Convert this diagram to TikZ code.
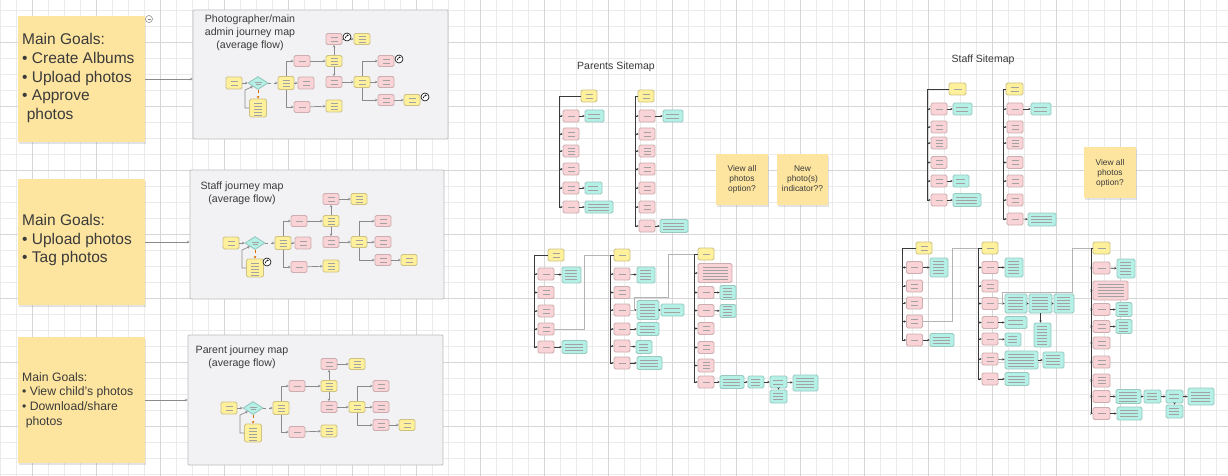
\documentclass[tikz,border=0pt]{standalone}
\usepackage{fontspec}
\setmainfont{Liberation Sans}
\usetikzlibrary{arrows.meta,shapes.geometric,shadows}
\definecolor{gridminor}{HTML}{EBEBEB}
\definecolor{gridmajor}{HTML}{D6D6D6}
\definecolor{sticky}{HTML}{FDE5A0}
\definecolor{yfill}{HTML}{FFF09C}
\definecolor{ydraw}{HTML}{CDC184}
\definecolor{pfill}{HTML}{F9D3D5}
\definecolor{pdraw}{HTML}{CDAEB0}
\definecolor{tfill}{HTML}{B5F0E6}
\definecolor{tdraw}{HTML}{98C8C0}
\definecolor{jfill}{HTML}{F2F2F4}
\definecolor{jdraw}{HTML}{BDBDC0}
\definecolor{tline}{HTML}{A2A2A2}
\definecolor{ink}{HTML}{3A3A3A}
\definecolor{edge}{HTML}{8A8A8A}
\definecolor{linkc}{HTML}{B4B4B4}
\tikzset{
  nbase/.style={rounded corners=1.5pt, line width=0.9pt, inner sep=0pt, minimum width=16pt, minimum height=12pt},
  yn/.style={nbase, draw=ydraw, fill=yfill},
  pn/.style={nbase, draw=pdraw, fill=pfill},
  tn/.style={nbase, draw=tdraw, fill=tfill},
  dn/.style={shape=diamond, draw=tdraw, fill=tfill, line width=0.9pt, inner sep=0pt, minimum width=20pt, minimum height=13pt,
     path picture={\draw[tline, line width=0.45pt] ([xshift=-3.5pt,yshift=1pt]path picture bounding box.center) -- ([xshift=3.5pt,yshift=1pt]path picture bounding box.center);
                   \draw[tline, line width=0.45pt] ([xshift=-2.5pt,yshift=-1.5pt]path picture bounding box.center) -- ([xshift=2.5pt,yshift=-1.5pt]path picture bounding box.center);}},
  lns/.style={path picture={\foreach \dy in {#1}{\draw[tline, line width=0.45pt] ([xshift=4.5pt,yshift=\dy pt]path picture bounding box.west) -- ([xshift=-4.5pt,yshift=\dy pt]path picture bounding box.east);}}},
  tlns/.style={path picture={\foreach \dy in {#1}{\draw[tline, line width=0.45pt] ([xshift=2.8pt,yshift=\dy pt]path picture bounding box.west) -- ([xshift=-4pt,yshift=\dy pt]path picture bounding box.east);}}},
  pk1/.style={pn,lns={0}}, pk2/.style={pn,lns={1.8,-1.8}}, pk3/.style={pn,lns={3,0,-3}},
  yw1/.style={yn,lns={0}}, yw2/.style={yn,lns={1.8,-1.8}}, yw3/.style={yn,lns={3,0,-3}}, yw4/.style={yn,lns={5,2,-1,-4,-7}},
  tq2/.style={tn,tlns={1.8,-1.8}}, tq3/.style={tn,tlns={3,0,-3}}, tq4/.style={tn,tlns={4.5,1.5,-1.5,-4.5}},
  tq5/.style={tn,tlns={6,3,0,-3,-6}}, tq7/.style={tn,tlns={9,6,3,0,-3,-6,-9}},
  ar/.style={draw=ink, line width=0.6pt, -{Stealth[length=2.2pt,width=2.4pt]}},
  jar/.style={draw=edge, line width=0.7pt, -{Stealth[length=2.4pt,width=2.6pt]}},
  trunk/.style={draw=ink, line width=0.9pt},
  link/.style={draw=linkc, line width=0.8pt},
  stk/.style={fill=sticky, draw=none, drop shadow={shadow xshift=0.6pt, shadow yshift=-2.2pt, opacity=0.22}},
  jbox/.style={fill=jfill, draw=jdraw, line width=0.9pt, rounded corners=1pt},
  icon/.style={circle, draw=black, fill=white, line width=0.6pt, minimum size=8pt, inner sep=0pt,
     path picture={\draw[line width=0.6pt, -{Stealth[length=1.4pt,width=1.8pt]}] ([xshift=-1.8pt,yshift=-1.2pt]path picture bounding box.center) to[bend left=50] ([xshift=1.6pt,yshift=1.4pt]path picture bounding box.center);}},
  jtitle/.style={align=center, text=ink, font=\fontsize{10.6}{13}\selectfont, inner sep=0pt},
  sttext/.style={align=center, text=ink, font=\fontsize{8.4}{10}\selectfont, inner sep=0pt},
}
\newcommand\bx[6]{\node[#1,minimum width=#5pt,minimum height=#6pt] (#2) at (#3,#4) {};}
\newcommand\jflow[2]{%
  \bx{yw2}{#1s}{41}{73}{16}{12}
  \node[dn] (#1d) at (65,73) {};
  \bx{yw4}{#1b}{65}{98}{17}{18}
  \bx{yw3}{#1m}{93}{73}{16}{13}
  \bx{pk1}{#1pu}{109}{51}{16}{11}
  \bx{pk1}{#1pd}{109}{97}{16}{11}
  \bx{yw3}{#1yu}{141}{51}{16}{11}
  \bx{pk2}{#1pt}{141}{29}{16}{11}
  \bx{yw3}{#1yt}{169}{29}{16}{11}
  \bx{pk2}{#1pm}{141}{72}{16}{11}
  \bx{yw3}{#1yd}{141}{96}{16}{12}
  \bx{yw2}{#1ym}{169}{72}{16}{11}
  \bx{pk2}{#1r1}{193}{51}{16}{11}
  \bx{pk2}{#1r2}{193}{72}{16}{11}
  \bx{pk2}{#1r3}{193}{90}{16}{11}
  \bx{yw2}{#1yf}{219}{90}{16}{11}
  \draw[jar] (#1s) -- (#1d);
  \draw[jar,dashed] (#1d) -- (#1m);
  \draw[jar,dashed,draw=orange!85!black] (#1d) -- (#1b);
  \draw[jar] (#1b.west) -| (52,80) -- (#1d.south west);
  \draw[jar] (#1m.north) |- (#1pu.west);
  \draw[jar] (#1m.south) |- (#1pd.west);
  \draw[jar] (#1pu) -- (#1yu);
  \draw[jar] (#1yu) -- (#1pt);
  \draw[jar] (#1pt) -- (#1yt);
  \draw[jar] (#1yu) -- (#1pm);
  \draw[jar] (#1pd) -- (#1yd);
  \draw[jar] (#1pm) -- (#1ym);
  \draw[jar] (#1ym.north) |- (#1r1.west);
  \draw[jar] (#1ym) -- (#1r2);
  \draw[jar] (#1ym.south) |- (#1r3.west);
  \draw[jar] (#1r3) -- (#1yf);
  #2%
}
\begin{document}
\begin{tikzpicture}[x=1pt,y=-1pt]
\useasboundingbox (0,0) rectangle (1228,476);
\fill[white] (0,0) rectangle (1228,476);
% grid
\foreach \x in {0,16,...,1216} \draw[gridminor, line width=0.7pt] (\x,0) -- (\x,476);
\foreach \y in {10,26,...,474} \draw[gridminor, line width=0.7pt] (0,\y) -- (1228,\y);
\foreach \x in {32,96,...,1184} \draw[gridmajor, line width=0.9pt] (\x,0) -- (\x,476);
\foreach \y in {42,106,...,426} \draw[gridmajor, line width=0.9pt] (0,\y) -- (1228,\y);

% ---------- goal stickies ----------
\node[stk, minimum width=127pt, minimum height=126pt] (G1) at (81.5,79) {};
\node[stk, minimum width=127pt, minimum height=126pt] (G2) at (81.5,242) {};
\node[stk, minimum width=127pt, minimum height=126pt] (G3) at (81.5,400) {};
\node[anchor=west, align=left, text=ink, inner sep=0pt, font=\fontsize{15.5}{18.7}\selectfont] (G1t) at (22,78) {Main Goals:\\• Create Albums\\• Upload photos\\• Approve\\\hspace{0.3em}photos};
\node[anchor=west, align=left, text=ink, inner sep=0pt, font=\fontsize{15.5}{18.7}\selectfont] (G2t) at (22,240) {Main Goals:\\• Upload photos\\• Tag photos};
\node[anchor=west, align=left, text=ink, inner sep=0pt, font=\fontsize{12.2}{14.6}\selectfont] (G3t) at (22,400) {Main Goals:\\• View child's photos\\• Download/share\\\hspace{0.3em}photos};
\node[circle, draw=gray, fill=white, line width=0.5pt, minimum size=7pt, inner sep=0pt,
  path picture={\draw[gray, line width=0.5pt] ([xshift=-1.5pt]path picture bounding box.center) -- ([xshift=1.5pt]path picture bounding box.center);}] (col) at (149,19) {};

% ---------- journey boxes ----------
\node[jbox, minimum width=255pt, minimum height=129pt] (J1) at (320.5,74.5) {};
\node[jbox, minimum width=254pt, minimum height=129pt] (J2) at (317,234.5) {};
\node[jbox, minimum width=255pt, minimum height=130pt] (J3) at (315.5,400) {};
\draw[jar] (G1.east) -- (G1.east -| J1.west);
\draw[jar] (G2.east) -- (G2.east -| J2.west);
\draw[jar] (G3.east) -- (G3.east -| J3.west);
\node[jtitle] (J1t) at (250,33) {Photographer/main\\admin journey map\\(average flow)};
\node[jtitle] (J2t) at (242,193.5) {Staff journey map\\(average flow)};
\node[jtitle] (J3t) at (242,357) {Parent journey map\\(average flow)};

\begin{scope}[shift={(193,10)}]
  \jflow{A}{%
    \bx{pk2}{Amr}{113}{73}{16}{12}
    \draw[jar] (Am) -- (Amr);
    \node[icon] (Ai1) at (154,27) {};
    \node[icon] (Ai2) at (206,49) {};
    \node[icon] (Ai3) at (232,87) {};
  }
\end{scope}
\begin{scope}[shift={(190,170)}]
  \jflow{B}{%
    \bx{pk2}{Bmr}{113}{73}{16}{12}
    \draw[jar] (Bm) -- (Bmr);
    \node[icon] (Bi1) at (77,92) {};
  }
\end{scope}
\begin{scope}[shift={(188,335)}]
  \jflow{C}{}
\end{scope}

% ---------- Parents sitemap ----------
\node[text=ink, inner sep=0pt, font=\fontsize{10.5}{12}\selectfont] (PST) at (616,67) {Parents Sitemap};
% top-left tree
\coordinate (tPL) at (559,96);
\bx{yw2}{rPL}{589}{96}{16}{12}
\bx{pk1}{pl1}{571}{116}{16}{12}
\bx{pk2}{pl2}{571}{134}{16}{12}
\bx{pk3}{pl3}{571}{151}{16}{12}
\bx{pk2}{pl4}{571}{169}{16}{12}
\bx{pk2}{pl5}{571}{188}{16}{12}
\bx{pk1}{pl6}{571}{207}{16}{12}
\bx{tq2}{plt1}{594.5}{116}{19}{12}
\bx{tq2}{plt5}{593.5}{188}{17}{12}
\bx{tq3}{plt6}{599}{207}{28}{12}
\draw[trunk] (rPL.west) -| (pl6.west -| tPL);
\foreach \c in {pl1,pl2,pl3,pl4,pl5,pl6} {\draw[ar] (\c.west -| tPL) -- (\c.west);}
\draw[ar] (pl1) -- (plt1); \draw[ar] (pl5) -- (plt5); \draw[ar] (pl6) -- (plt6);
% top-right tree
\coordinate (tPR) at (635,96);
\bx{yw2}{rPR}{646}{96}{16}{12}
\bx{pk1}{pr1}{647}{116}{16}{12}
\bx{pk2}{pr2}{647}{134}{16}{12}
\bx{pk3}{pr3}{647}{151}{16}{12}
\bx{pk2}{pr4}{647}{169}{16}{12}
\bx{pk2}{pr5}{647}{188}{16}{12}
\bx{pk2}{pr6}{647}{207}{16}{12}
\bx{pk1}{pr7}{647}{226}{16}{12}
\bx{tq2}{prt1}{673}{116}{20}{12}
\bx{tq3}{prt7}{674}{226}{28}{13}
\draw[trunk] (rPR.west) -| (pr7.west -| tPR);
\foreach \c in {pr1,pr2,pr3,pr4,pr5,pr6,pr7} {\draw[ar] (\c.west -| tPR) -- (\c.west);}
\draw[ar] (pr1) -- (prt1); \draw[ar] (pr7) -- (prt7);
% stickies
\node[stk, minimum width=52pt, minimum height=51pt] (stA) at (742,179.5) {};
\node[stk, minimum width=51pt, minimum height=51pt] (stB) at (802.5,179.5) {};
\node[sttext] (stAt) at (742,179) {View all\\photos\\option?};
\node[sttext] (stBt) at (802.5,179) {New\\photo(s)\\indicator??};
% bottom tree A
\coordinate (tPA) at (534,255);
\bx{yw2}{rPA}{556}{255}{16}{12}
\bx{pk1}{pa1}{546}{274}{16}{12}
\bx{pk2}{pa2}{546}{292.5}{16}{12}
\bx{pk2}{pa3}{546}{311}{16}{12}
\bx{pk2}{pa4}{546}{329}{16}{12}
\bx{pk1}{pa5}{546}{347}{16}{12}
\bx{tq4}{pat1}{571.5}{275}{19}{16}
\bx{tq3}{pat5}{574.5}{347}{25}{13}
\draw[trunk] (rPA.west) -| (pa5.west -| tPA);
\foreach \c in {pa1,pa2,pa3,pa4,pa5} {\draw[ar] (\c.west -| tPA) -- (\c.west);}
\draw[ar] (pa1) -- (pat1); \draw[ar] (pa5) -- (pat5);
% bottom tree B
\coordinate (tPB) at (610,255);
\bx{yw1}{rPB}{622}{255}{16}{12}
\bx{pk1}{pb1}{622}{274}{16}{12}
\bx{pk2}{pb2}{622}{292.5}{16}{12}
\bx{pk1}{pb3}{622}{310}{16}{12}
\bx{pk1}{pb4}{622}{329}{16}{12}
\bx{pk1}{pb5}{622}{346}{16}{12}
\bx{pk1}{pb6}{622}{363}{16}{12}
\bx{tq4}{pbt1}{646}{275}{18}{16}
\bx{tq5}{pbt3}{648}{310}{22}{19}
\bx{tq2}{pbt3b}{672.5}{310}{23}{12}
\bx{tq3}{pbt4}{648}{329}{22}{13}
\bx{tq3}{pbt5}{644}{347}{16}{13}
\bx{tq3}{pbt6}{649.5}{363}{25}{13}
\draw[trunk] (rPB.west) -| (pb6.west -| tPB);
\foreach \c in {pb1,pb2,pb3,pb4,pb5,pb6} {\draw[ar] (\c.west -| tPB) -- (\c.west);}
\draw[ar] (pb1) -- (pbt1); \draw[ar] (pb3) -- (pbt3); \draw[ar] (pbt3) -- (pbt3b);
\draw[ar] (pb4) -- (pbt4); \draw[ar] (pb5) -- (pbt5); \draw[ar] (pb6) -- (pbt6);
% bottom tree C
\coordinate (tPC) at (694,254);
\bx{yw1}{rPC}{706}{254}{16}{12}
\bx{pn,lns={6,3,0,-3,-6}}{pc1}{715}{273}{34}{19}
\bx{pk1}{pc2}{706}{292.5}{16}{12}
\bx{pk1}{pc3}{706}{310.5}{16}{12}
\bx{pk2}{pc4}{706}{328.5}{16}{12}
\bx{pk2}{pc5}{706}{347.5}{16}{12}
\bx{pk3}{pc6}{706}{365.5}{16}{13}
\bx{pk1}{pc7}{706}{382}{16}{12}
\bx{tq4}{pct2}{728}{292.5}{16}{14}
\bx{tq4}{pct3}{728}{311}{16}{13}
\bx{tq3}{pct7a}{732}{382}{24}{13}
\bx{tq3}{pct7b}{756}{382}{16}{12}
\bx{tq2}{pct7c}{778.5}{382}{17}{12}
\bx{tq3}{pct7d}{778.5}{396.5}{17}{13}
\bx{tq4}{pct7e}{805.5}{383}{25}{16}
\draw[trunk] (rPC.west) -| (pc7.west -| tPC);
\foreach \c in {pc1,pc2,pc3,pc4,pc5,pc6,pc7} {\draw[ar] (\c.west -| tPC) -- (\c.west);}
\draw[ar] (pc2) -- (pct2); \draw[ar] (pc3) -- (pct3); \draw[ar] (pc7) -- (pct7a);
\draw[ar] (pct7a) -- (pct7b); \draw[ar] (pct7b) -- (pct7c); \draw[ar] (pct7c) -- (pct7e);
\draw[ar] (pct7c) -- (pct7d);
% links
\draw[link] (pa4.east) -- ++(30,0) |- (rPB.west -| tPB);
\coordinate (kP1) at (668,297);
\draw[link] (pb3.east) -- ++(4,0) |- (kP1) |- (rPC.west -| tPC);

% ---------- Staff sitemap ----------
\node[text=ink, inner sep=0pt, font=\fontsize{10.5}{12}\selectfont] (SST) at (983,60) {Staff Sitemap};
% top-left
\coordinate (tSL) at (927,89);
\bx{yw1}{rSL}{957.5}{89}{17}{12}
\bx{pk1}{sl1}{939}{109}{16}{12}
\bx{pk2}{sl2}{939}{127}{16}{12}
\bx{pk3}{sl3}{939}{143}{16}{12}
\bx{pk2}{sl4}{939}{162.5}{16}{12}
\bx{pk2}{sl5}{939}{181}{16}{12}
\bx{pk1}{sl6}{939}{200}{16}{12}
\bx{tq2}{slt1}{962.5}{109}{19}{12}
\bx{tq2}{slt5}{961}{181}{16}{12}
\bx{tq3}{slt6}{967}{200}{28}{13}
\draw[trunk] (rSL.west) -| (sl6.west -| tSL);
\foreach \c in {sl1,sl2,sl3,sl4,sl5,sl6} {\draw[ar] (\c.west -| tSL) -- (\c.west);}
\draw[ar] (sl1) -- (slt1); \draw[ar] (sl5) -- (slt5); \draw[ar] (sl6) -- (slt6);
% top-right
\coordinate (tSR) at (1003,89);
\bx{yw2}{rSR}{1014.5}{89}{17}{12}
\bx{pk1}{sr1}{1015}{109}{16}{12}
\bx{pk2}{sr2}{1015}{127}{16}{12}
\bx{pk3}{sr3}{1015}{143}{16}{12}
\bx{pk2}{sr4}{1015}{162.5}{16}{12}
\bx{pk2}{sr5}{1015}{181}{16}{12}
\bx{pk2}{sr6}{1015}{200}{16}{12}
\bx{pk1}{sr7}{1015}{219}{16}{12}
\bx{tq2}{srt1}{1041}{109}{20}{12}
\bx{tq3}{srt7}{1042}{219.5}{28}{13}
\draw[trunk] (rSR.west) -| (sr7.west -| tSR);
\foreach \c in {sr1,sr2,sr3,sr4,sr5,sr6,sr7} {\draw[ar] (\c.west -| tSR) -- (\c.west);}
\draw[ar] (sr1) -- (srt1); \draw[ar] (sr7) -- (srt7);
% sticky
\node[stk, minimum width=52pt, minimum height=51pt] (stC) at (1110,172.5) {};
\node[sttext] (stCt) at (1110,173) {View all\\photos\\option?};
% bottom A
\coordinate (tSA) at (902,248);
\bx{yw2}{rSA}{924}{248}{16}{12}
\bx{pk1}{sa1}{914.5}{267.5}{16}{12}
\bx{pk2}{sa2}{914.5}{286}{16}{12}
\bx{pk2}{sa3}{914.5}{303}{16}{12}
\bx{pk2}{sa4}{914.5}{321.5}{16}{13}
\bx{pk1}{sa5}{914.5}{340}{16}{12}
\bx{tq5}{sat1}{939}{267.5}{18}{19}
\bx{tq3}{sat5}{942}{340}{24}{13}
\draw[trunk] (rSA.west) -| (sa5.west -| tSA);
\foreach \c in {sa1,sa2,sa3,sa4,sa5} {\draw[ar] (\c.west -| tSA) -- (\c.west);}
\draw[ar] (sa1) -- (sat1); \draw[ar] (sa5) -- (sat5);
% bottom B
\coordinate (tSB) at (978,248);
\bx{yw1}{rSB}{990}{248}{16}{12}
\bx{pk1}{sb1}{990}{267.5}{16}{12}
\bx{pk2}{sb2}{990}{286}{16}{12}
\bx{pk1}{sb3}{990}{303.5}{16}{12}
\bx{pk1}{sb4}{990}{322.5}{16}{12}
\bx{pk1}{sb5}{990}{339}{16}{12}
\bx{pk2}{sb6}{990}{359}{16}{12}
\bx{pk1}{sb7}{990}{379}{16}{12}
\bx{tq5}{sbt1}{1014}{267.5}{18}{19}
\bx{tq5}{sbt3a}{1016}{303.5}{22}{19}
\bx{tq5}{sbt3b}{1040.5}{303.5}{23}{19}
\bx{tq5}{sbt3c}{1064}{303.5}{20}{19}
\bx{tq7}{sbt3d}{1042.5}{335}{17}{24}
\bx{tq2}{sbt4}{1016}{322.5}{22}{12}
\bx{tq3}{sbt5}{1013}{339.5}{16}{13}
\bx{tq5}{sbt6a}{1021.5}{360}{33}{18}
\bx{tq4}{sbt6b}{1053.5}{360}{21}{16}
\bx{tq3}{sbt7}{1017}{379}{24}{13}
\draw[trunk] (rSB.west) -| (sb7.west -| tSB);
\foreach \c in {sb1,sb2,sb3,sb4,sb5,sb6,sb7} {\draw[ar] (\c.west -| tSB) -- (\c.west);}
\draw[ar] (sb1) -- (sbt1); \draw[ar] (sb3) -- (sbt3a); \draw[ar] (sbt3a) -- (sbt3b); \draw[ar] (sbt3b) -- (sbt3c);
\draw[ar] (sbt3b) -- (sbt3b |- sbt3d.north);
\draw[ar] (sb4) -- (sbt4); \draw[ar] (sb5) -- (sbt5); \draw[ar] (sb6) -- (sbt6a); \draw[ar] (sbt6a) -- (sbt6b);
\draw[ar] (sb7) -- (sbt7);
% bottom C
\coordinate (tSC) at (1091,248);
\bx{yw1}{rSC}{1101.5}{248}{17}{12}
\bx{pk1}{sc1}{1101.5}{268}{17}{12}
\bx{pn,lns={6,3,0,-3,-6}}{sc2}{1110.5}{290.5}{35}{19}
\bx{pk1}{sc3}{1101.5}{309.5}{17}{12}
\bx{pk2}{sc4}{1101.5}{326.5}{17}{12}
\bx{pk2}{sc5}{1101.5}{343}{17}{12}
\bx{pk2}{sc6}{1101.5}{362}{17}{12}
\bx{pk3}{sc7}{1101.5}{380.5}{17}{13}
\bx{pk1}{sc8}{1101.5}{396.5}{17}{12}
\bx{pk1}{sc9}{1101.5}{413.5}{17}{12}
\bx{tq5}{sct1}{1126}{268.5}{18}{19}
\bx{tq4}{sct3}{1124}{309.5}{16}{14}
\bx{tq4}{sct4}{1124}{326.5}{16}{14}
\bx{tq4}{sct8a}{1128.5}{396.5}{25}{14}
\bx{tq3}{sct8b}{1152.5}{396.5}{17}{13}
\bx{tq2}{sct8c}{1174.5}{396.5}{17}{13}
\bx{tq3}{sct8d}{1174.5}{411.5}{17}{13}
\bx{tq4}{sct8e}{1201}{396.5}{26}{17}
\bx{tq3}{sct9}{1129.5}{413.5}{25}{13}
\draw[trunk] (rSC.west) -| (sc9.west -| tSC);
\foreach \c in {sc1,sc2,sc3,sc4,sc5,sc6,sc7,sc8,sc9} {\draw[ar] (\c.west -| tSC) -- (\c.west);}
\draw[ar] (sc1) -- (sct1); \draw[ar] (sc3) -- (sct3); \draw[ar] (sc4) -- (sct4);
\draw[ar] (sc8) -- (sct8a); \draw[ar] (sct8a) -- (sct8b); \draw[ar] (sct8b) -- (sct8c); \draw[ar] (sct8c) -- (sct8e);
\draw[ar] (sct8c) -- (sct8d); \draw[ar] (sc9) -- (sct9);
% links
\draw[link] (sa4.east) -- ++(29,0) |- (rSB.west -| tSB);
\coordinate (kS1) at (1072,292);
\draw[link] (sb3.east) -- ++(4,0) |- (kS1) |- (rSC.west -| tSC);
\end{tikzpicture}
\end{document}
